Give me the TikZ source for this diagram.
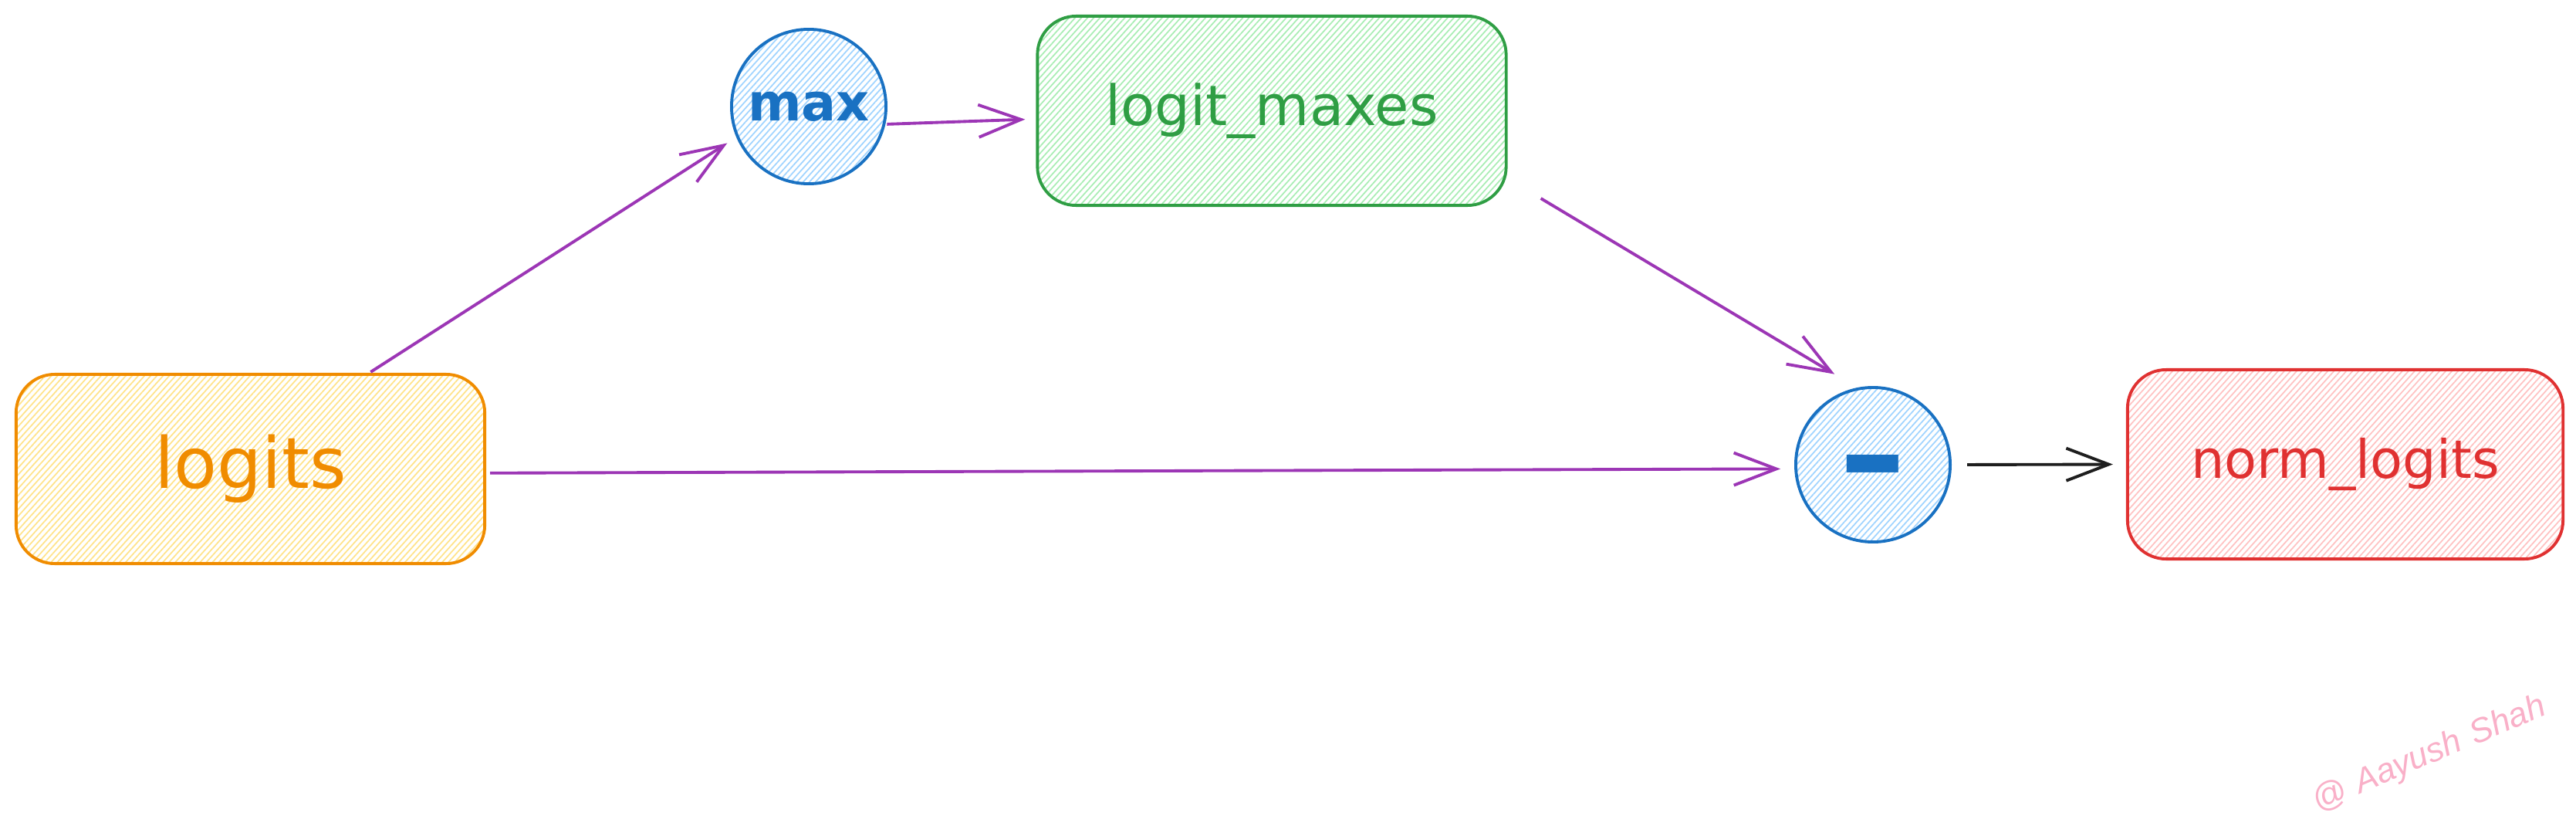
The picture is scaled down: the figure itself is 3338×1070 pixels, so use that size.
\documentclass[tikz,border=0pt]{standalone}
\usepackage{fontspec}
\setmainfont{DejaVu Sans}
\newfontfamily\wmfont{Liberation Sans}
\usetikzlibrary{arrows.meta,patterns.meta,calc}
\definecolor{orangeS}{HTML}{F08C00}
\definecolor{orangeH}{HTML}{FFE38A}
\definecolor{greenS}{HTML}{2F9E44}
\definecolor{greenH}{HTML}{A9EDB4}
\definecolor{blueS}{HTML}{1971C2}
\definecolor{blueH}{HTML}{A0D4FF}
\definecolor{redS}{HTML}{E03131}
\definecolor{redH}{HTML}{FFC2C2}
\definecolor{purpleA}{HTML}{9C36B5}
\definecolor{pinkW}{HTML}{F9B0C8}
\definecolor{blackA}{HTML}{1E1E1E}
\tikzset{
  hatch/.style={pattern={Lines[angle=48,distance=1.7pt,line width=0.5pt]}, pattern color=#1},
  boxbase/.style={rectangle, rounded corners=0.5cm, line width=1.1pt,
    minimum width=6.07cm, minimum height=2.45cm, inner sep=0pt},
  circbase/.style={circle, line width=1.1pt, minimum size=2cm, inner sep=0pt,
    draw=blueS, text=blueS, hatch=blueH},
  ybox/.style={boxbase, draw=orangeS, text=orangeS, hatch=orangeH},
  gbox/.style={boxbase, draw=greenS, text=greenS, hatch=greenH},
  rbox/.style={boxbase, draw=redS, text=redS, hatch=redH},
  arr/.style={line width=1.1pt, draw=purpleA,
    -{Straight Barb[length=0.55cm, width=0.42cm, line width=1.1pt]}},
  arrk/.style={arr, draw=blackA},
}
\begin{document}
\begin{tikzpicture}[x=0.01cm, y=-0.01cm]
\useasboundingbox (0,0) rectangle (3338,1070);

\node[ybox] (logits) at (324.5,607.5) {\fontsize{26}{30}\selectfont logits};
\node[gbox] (lm) at (1648,143.5) {\fontsize{20.5}{24}\selectfont logit\_maxes};
\node[rbox, minimum width=5.64cm] (norm) at (3039,601.5) {\fontsize{19.5}{24}\selectfont norm\_logits};
\node[circbase] (maxc) at (1048,138) {\fontsize{19}{22}\selectfont\bfseries max};
\node[circbase] (minus) at (2427,602) {\fontsize{46}{50}\selectfont\bfseries\smash{\raisebox{-0.28em}{\scalebox{1.35}[1]{-}}}};

\draw[arr, shorten <=0.04cm, shorten >=0.14cm] (logits.39) -- (maxc.203);
\draw[arr, shorten <=0.02cm, shorten >=0.14cm] (maxc.-13) -- (lm.182);
\draw[arr] ($(lm.south east)+(43,-11)$) -- ($(minus.center)!1.25!(minus.113)$);
\draw[arr, shorten <=0.06cm, shorten >=0.18cm] (logits.-1.8) -- (minus.183);
\draw[arrk, shorten <=0.20cm, shorten >=0.17cm] (minus.east) -- (norm.west);

\node[text=pinkW, rotate=23, font=\wmfont\itshape\fontsize{12.5}{15}\selectfont] (wm) at (3148,978) {@\hspace{0.35em}Aayush\hspace{0.35em}Shah};
\end{tikzpicture}
\end{document}
